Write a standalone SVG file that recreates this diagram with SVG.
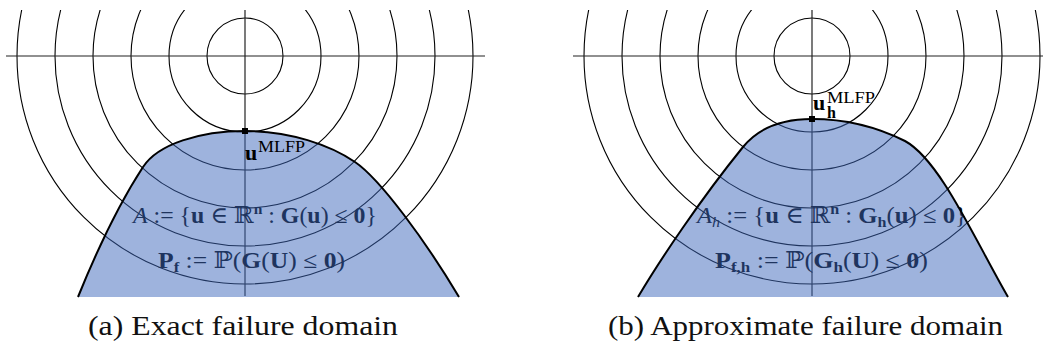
<svg xmlns="http://www.w3.org/2000/svg" width="1043" height="350" viewBox="0 0 1043 350">
<style>
.ring{fill:none;stroke:#000;stroke-width:1.1}
.axis{fill:none;stroke:#222;stroke-width:1.2}
.dom{fill:rgb(61,104,188);fill-opacity:0.5;stroke:none}
.edge{fill:none;stroke:#000;stroke-width:2}
.math{font-family:"Liberation Serif","DejaVu Serif",serif;font-size:23px;fill:#000}
.b{font-weight:bold}
.i{font-style:italic}
.cap{font-family:"Liberation Serif","DejaVu Serif",serif;font-size:27px;fill:#111}
.lbl{font-family:"Liberation Serif","DejaVu Serif",serif;fill:#000}
.pt{fill:#000}
</style>
<defs>
<clipPath id="clip"><rect x="0" y="10" width="1043" height="340"/></clipPath>
<g id="rings">
<circle class="ring" cx="0" cy="0" r="38"/>
<circle class="ring" cx="0" cy="0" r="76"/>
<circle class="ring" cx="0" cy="0" r="114"/>
<circle class="ring" cx="0" cy="0" r="152"/>
<circle class="ring" cx="0" cy="0" r="190"/>
<circle class="ring" cx="0" cy="0" r="228"/>
</g>
</defs>
<rect width="1043" height="350" fill="#fff"/>

<g id="panel-a">
<g clip-path="url(#clip)"><use href="#rings" transform="translate(245,56)"/></g>
<line class="axis" x1="6" y1="56" x2="485" y2="56"/>
<line class="axis" x1="245" y1="10" x2="245" y2="296"/>
<text class="math" x="133" y="223" textLength="244" lengthAdjust="spacingAndGlyphs"><tspan class="i">A</tspan> := {<tspan class="b">u</tspan> ∈ ℝ<tspan class="b" font-size="15" dy="-9">n</tspan><tspan dy="9"> : </tspan><tspan class="b">G</tspan>(<tspan class="b">u</tspan>) ≤ <tspan class="b">0</tspan>}</text>
<text class="math" x="158" y="268" textLength="187" lengthAdjust="spacingAndGlyphs"><tspan class="b">P</tspan><tspan class="b" font-size="15" dy="4">f</tspan><tspan dy="-4"> := ℙ(</tspan><tspan class="b">G</tspan>(<tspan class="b">U</tspan>) ≤ <tspan class="b">0</tspan>)</text>
<path class="dom" d="M78,297 C95,255 115,210 143,167 C158,144 200,131 245,131 C290,131 330,145 355,162 C380,179 425,240 459,297 Z"/>
<path class="edge" d="M78,297 C95,255 115,210 143,167 C158,144 200,131 245,131 C290,131 330,145 355,162 C380,179 425,240 459,297"/>
<rect class="pt" x="242" y="128" width="6" height="6"/>
<text class="lbl" y="160"><tspan class="b" x="245" font-size="22">u</tspan><tspan x="258" dy="-8" font-size="16" textLength="47" lengthAdjust="spacingAndGlyphs">MLFP</tspan></text>
<text class="cap" x="88" y="335" textLength="310" lengthAdjust="spacingAndGlyphs">(a) Exact failure domain</text>
</g>

<g id="panel-b">
<g clip-path="url(#clip)"><use href="#rings" transform="translate(812,56)"/></g>
<line class="axis" x1="573" y1="56" x2="1043" y2="56"/>
<line class="axis" x1="812" y1="10" x2="812" y2="296"/>
<text class="math" x="697" y="223" textLength="270" lengthAdjust="spacingAndGlyphs"><tspan class="i">A</tspan><tspan class="i" font-size="15" dy="4">h</tspan><tspan dy="-4"> := {</tspan><tspan class="b">u</tspan> ∈ ℝ<tspan class="b" font-size="15" dy="-9">n</tspan><tspan dy="9"> : </tspan><tspan class="b">G</tspan><tspan class="b" font-size="15" dy="4">h</tspan><tspan dy="-4">(</tspan><tspan class="b">u</tspan>) ≤ <tspan class="b">0</tspan>}</text>
<text class="math" x="715" y="268" textLength="213" lengthAdjust="spacingAndGlyphs"><tspan class="b">P</tspan><tspan class="b" font-size="15" dy="4">f,h</tspan><tspan dy="-4"> := ℙ(</tspan><tspan class="b">G</tspan><tspan class="b" font-size="15" dy="4">h</tspan><tspan dy="-4">(</tspan><tspan class="b">U</tspan>) ≤ <tspan class="b">0</tspan>)</text>
<path class="dom" d="M638,297 C660,260 700,200 743,147 C760,126 785,119 812,119 C845,119 875,126 905,141 C940,160 975,240 1008,297 Z"/>
<path class="edge" d="M638,297 C660,260 700,200 743,147 C760,126 785,119 812,119 C845,119 875,126 905,141 C940,160 975,240 1008,297"/>
<rect class="pt" x="809" y="116" width="6" height="6"/>
<text class="lbl" y="110"><tspan class="b" x="813" font-size="22">u</tspan><tspan x="827" dy="-7" font-size="16" textLength="48" lengthAdjust="spacingAndGlyphs">MLFP</tspan><tspan class="b" x="827" dy="15" font-size="16">h</tspan></text>
<text class="cap" x="608" y="335" textLength="395" lengthAdjust="spacingAndGlyphs">(b) Approximate failure domain</text>
</g>
</svg>
